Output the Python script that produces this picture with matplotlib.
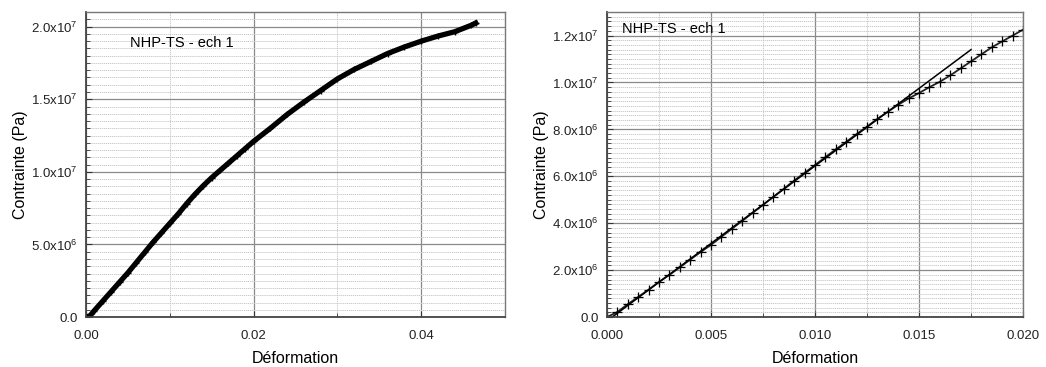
"""Stress-strain curves for NHP-TS sample 1: full test and initial linear zone."""

import matplotlib

matplotlib.use("Agg")
import matplotlib.pyplot as plt  # noqa: E402
from matplotlib.ticker import FuncFormatter, MultipleLocator  # noqa: E402

plt.rcParams["font.family"] = ["Liberation Sans", "DejaVu Sans"]

SAMPLE = "NHP-TS - ech 1"

# Full test (left panel)
strain_full = [0.0, 0.0005, 0.001, 0.002, 0.003, 0.004, 0.005, 0.006, 0.007,
               0.008, 0.009, 0.010, 0.011, 0.012, 0.013, 0.014, 0.015, 0.016,
               0.017, 0.018, 0.019, 0.020, 0.022, 0.024, 0.026, 0.028, 0.030,
               0.032, 0.034, 0.036, 0.038, 0.040, 0.042, 0.044, 0.046, 0.0465]
stress_full = [0.0, 0.1e6, 0.45e6, 1.1e6, 1.75e6, 2.4e6, 3.05e6, 3.75e6, 4.45e6,
               5.15e6, 5.8e6, 6.45e6, 7.1e6, 7.8e6, 8.45e6, 9.05e6, 9.6e6, 1.01e7,
               1.06e7, 1.11e7, 1.16e7, 1.21e7, 1.30e7, 1.395e7, 1.48e7, 1.56e7, 1.64e7,
               1.705e7, 1.76e7, 1.815e7, 1.86e7, 1.90e7, 1.935e7, 1.965e7, 2.01e7, 2.025e7]

# Initial part (right panel) + linear fit
strain_zoom = [0.0, 0.0005, 0.001, 0.0015, 0.002, 0.0025, 0.003, 0.0035, 0.004,
               0.0045, 0.005, 0.0055, 0.006, 0.0065, 0.007, 0.0075, 0.008, 0.0085,
               0.009, 0.0095, 0.010, 0.0105, 0.011, 0.0115, 0.012, 0.0125, 0.013,
               0.0135, 0.014, 0.0145, 0.015, 0.0155, 0.016, 0.0165, 0.017, 0.0175,
               0.018, 0.0185, 0.019, 0.0195, 0.020]
stress_zoom = [0.0, 0.22e6, 0.55e6, 0.86e6, 1.17e6, 1.50e6, 1.80e6, 2.12e6, 2.45e6,
               2.77e6, 3.08e6, 3.42e6, 3.76e6, 4.10e6, 4.44e6, 4.78e6, 5.13e6, 5.47e6,
               5.82e6, 6.15e6, 6.48e6, 6.82e6, 7.15e6, 7.47e6, 7.80e6, 8.12e6, 8.45e6,
               8.75e6, 9.05e6, 9.32e6, 9.55e6, 9.80e6, 1.003e7, 1.03e7, 1.06e7, 1.09e7,
               1.12e7, 1.15e7, 1.175e7, 1.20e7, 1.225e7]
fit_strain = [0.00025, 0.0175]
fit_stress = [0.0, 1.14e7]


def sci_fmt(v, _pos):
    if v == 0:
        return "0.0"
    exp = len(str(int(abs(v)))) - 1
    return r"$\mathregular{%.1fx10^{%d}}$" % (v / 10 ** exp, exp)


def style_axes(ax, xmaj, xmin, ymaj, ymin, xfmt):
    ax.xaxis.set_major_locator(MultipleLocator(xmaj))
    ax.xaxis.set_minor_locator(MultipleLocator(xmin))
    ax.yaxis.set_major_locator(MultipleLocator(ymaj))
    ax.yaxis.set_minor_locator(MultipleLocator(ymin))
    ax.xaxis.set_major_formatter(FuncFormatter(lambda v, p: xfmt % v))
    ax.yaxis.set_major_formatter(FuncFormatter(sci_fmt))
    ax.grid(which="major", color="#8a8a8a", lw=0.9, ls="-")
    ax.grid(which="minor", color="#c8c8c8", lw=0.7, ls=(0, (1.2, 0.8)))
    ax.set_axisbelow(True)
    ax.tick_params(which="both", direction="in", labelsize=9.5, colors="#333333",
                   labelcolor="#222222")
    ax.tick_params(which="major", length=4)
    ax.tick_params(which="minor", length=3)
    ax.tick_params(axis="x", which="major", pad=9)
    ax.tick_params(axis="y", which="major", pad=6)
    for side in ("left", "bottom"):
        ax.spines[side].set_color("#444444")
        ax.spines[side].set_linewidth(1.3)
    for side in ("top", "right"):
        ax.spines[side].set_color("#777777")
        ax.spines[side].set_linewidth(1.0)
    ax.set_xlabel("Déformation", fontsize=11.5, labelpad=7)
    ax.set_ylabel("Contrainte (Pa)", fontsize=11.5, labelpad=2)


fig = plt.figure(figsize=(10.46, 3.67), dpi=100)
ax1 = fig.add_axes([0.0822, 0.136, 0.4006, 0.831])
ax2 = fig.add_axes([0.5803, 0.136, 0.3977, 0.831])

ax1.plot(strain_full, stress_full, color="black", lw=3.8, marker="+", ms=5, mew=1)
ax1.set_xlim(0, 0.05)
ax1.set_ylim(0, 2.1e7)
style_axes(ax1, 0.02, 0.01, 5e6, 5e5, "%.2f")
ax1.text(0.105, 0.90, SAMPLE, transform=ax1.transAxes, fontsize=10.5, va="center")

ax2.plot(strain_zoom, stress_zoom, color="#222222", lw=1.3)
ax2.plot(strain_zoom, stress_zoom, color="black", ls="none", marker="+",
         ms=7, mew=0.9)
ax2.plot(fit_strain, fit_stress, color="black", lw=1.1)
ax2.set_xlim(0, 0.02)
ax2.set_ylim(0, 1.3e7)
style_axes(ax2, 0.005, 0.0025, 2e6, 2e5, "%.3f")
ax2.text(0.036, 0.944, SAMPLE, transform=ax2.transAxes, fontsize=10.5, va="center")

fig.savefig("out.png", dpi=100)
